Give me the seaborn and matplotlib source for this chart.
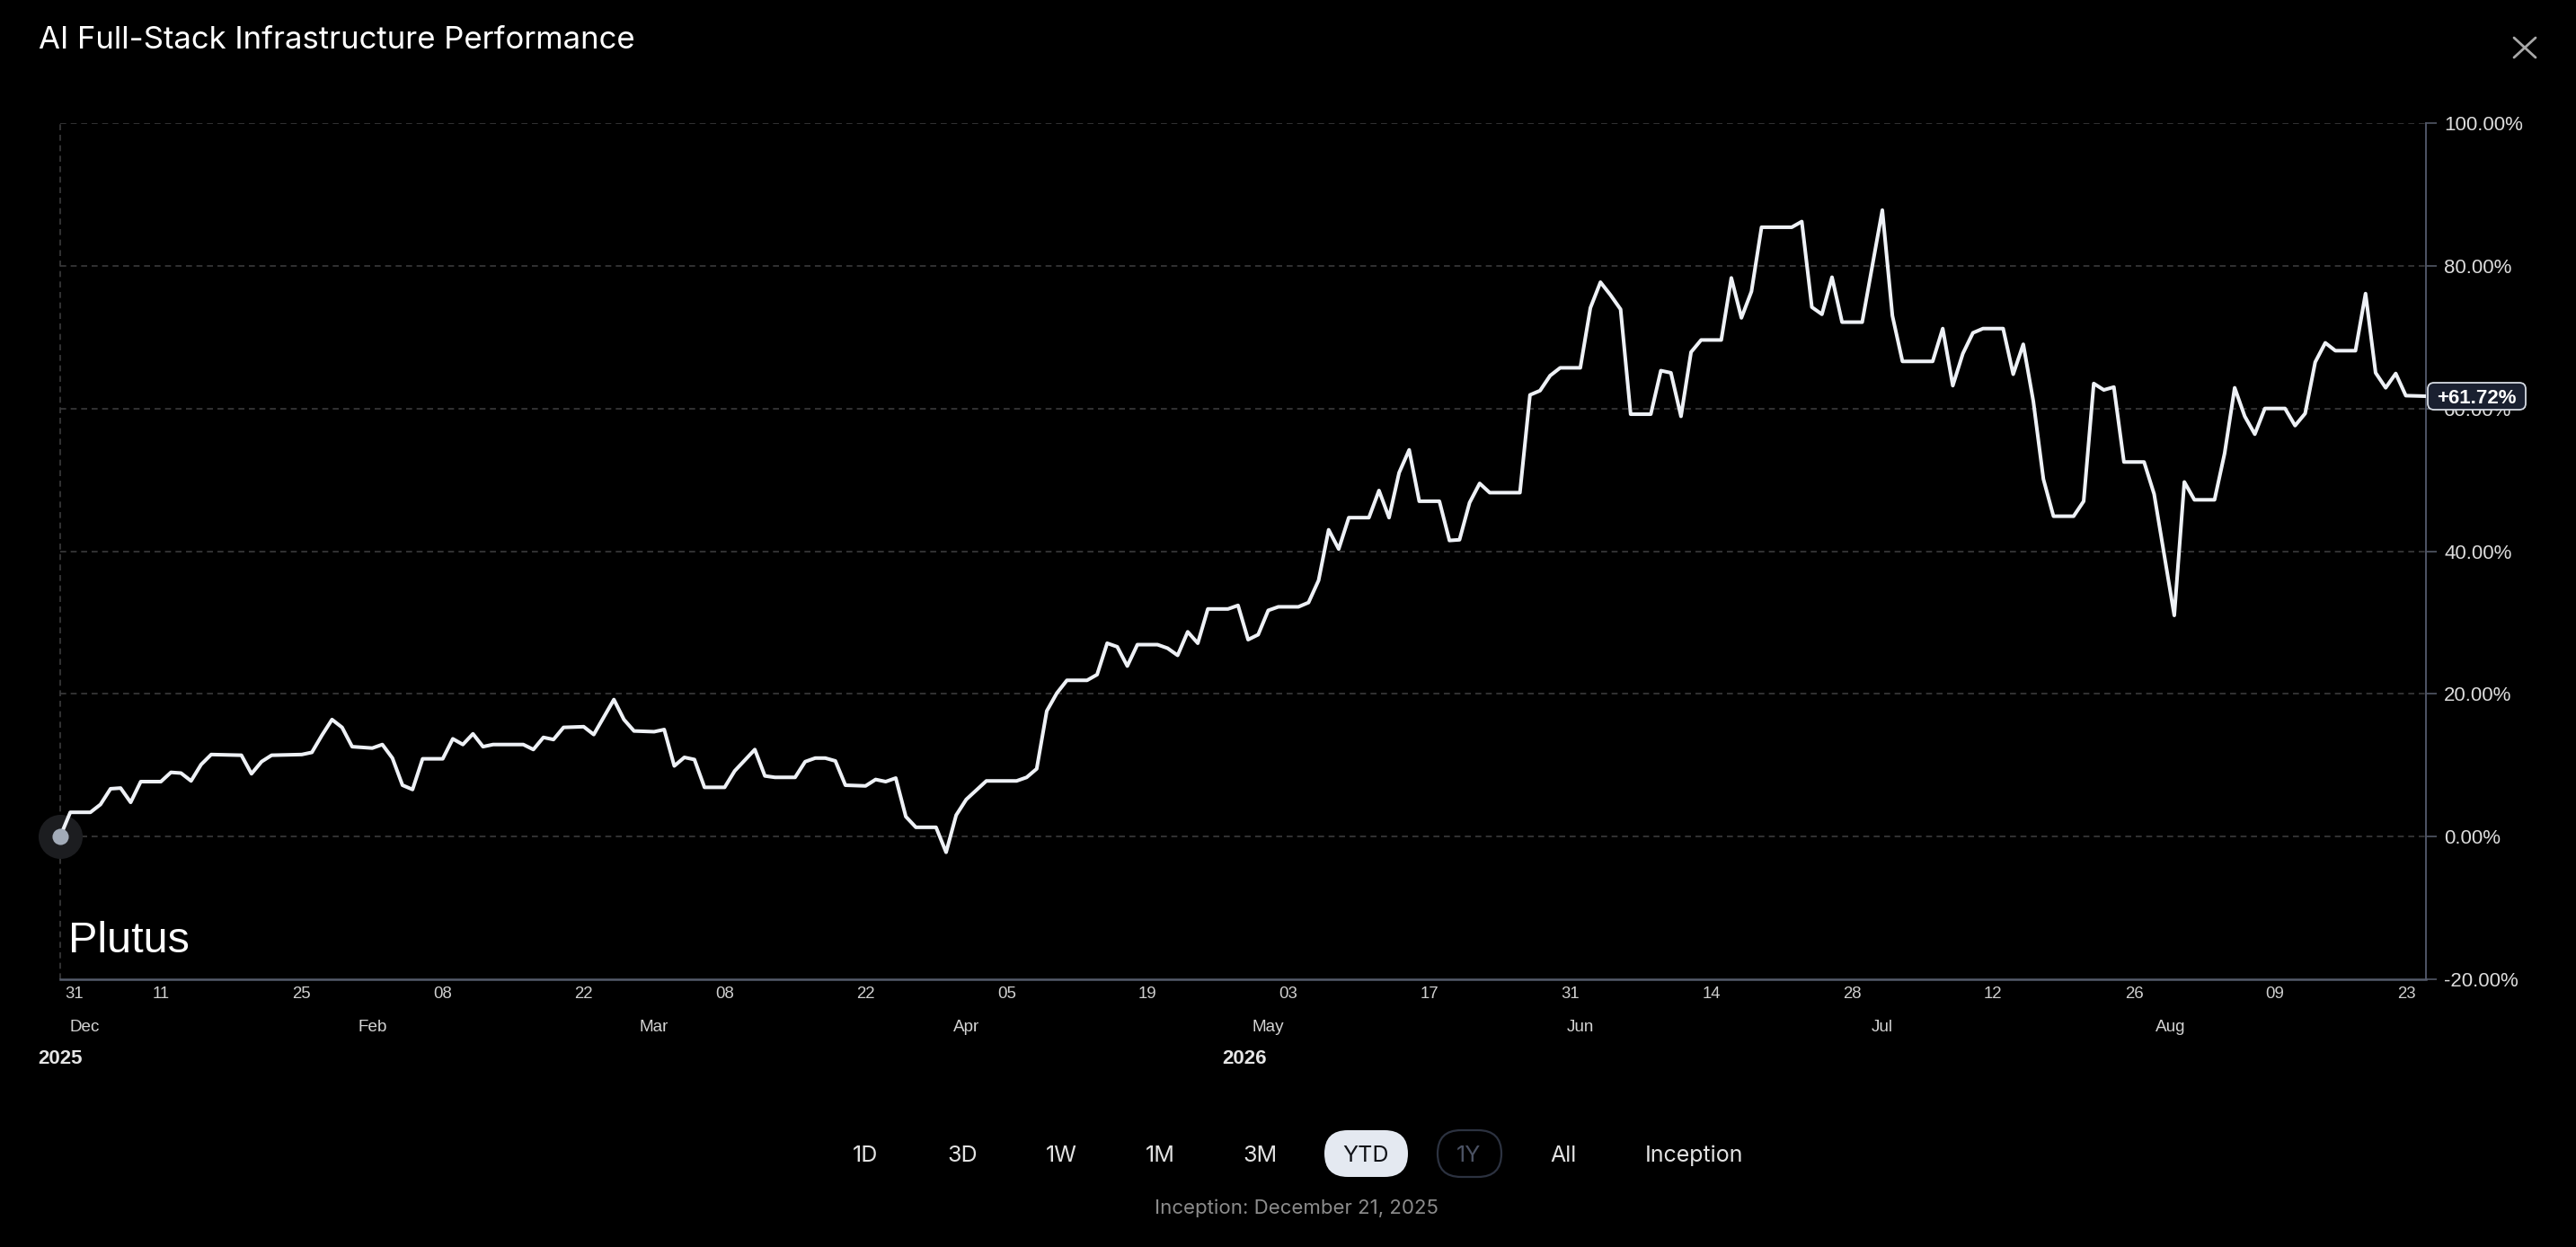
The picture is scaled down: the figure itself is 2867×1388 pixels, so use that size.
import matplotlib
matplotlib.use("Agg")
import numpy as np
import pandas as pd
import seaborn as sns
import matplotlib.pyplot as plt
from matplotlib import font_manager
from matplotlib.patches import FancyBboxPatch
from matplotlib.lines import Line2D
from matplotlib import transforms

# ---------------- data ----------------
title = "AI Full-Stack Infrastructure Performance"
# day offset from Jan 1 (YTD start) and cumulative return in %
days = [0, 1, 3, 4, 5, 6, 7, 8, 10, 11, 12, 13, 14, 15, 18, 19, 20, 21, 24, 25,
        26, 27, 28, 29, 31, 32, 33, 34, 35, 36, 38, 39, 40, 41, 42, 43, 46, 47, 48, 49,
        50, 52, 53, 55, 56, 57, 59, 60, 61, 62, 63, 64, 66, 67, 69, 70, 71, 73, 74, 75,
        76, 77, 78, 80, 81, 82, 83, 84, 85, 87, 88, 89, 90, 92, 95, 96, 97, 98, 99, 100,
        102, 103, 104, 105, 106, 107, 109, 110, 111, 112, 113, 114, 116, 117, 118, 119, 120, 121, 123, 124,
        125, 126, 127, 128, 130, 131, 132, 133, 134, 135, 137, 138, 139, 140, 141, 142, 145, 146, 147, 148,
        149, 151, 152, 153, 154, 155, 156, 158, 159, 160, 161, 162, 163, 165, 166, 167, 168, 169, 172, 173,
        174, 175, 176, 177, 179, 181, 182, 183, 186, 187, 188, 189, 190, 191, 193, 194, 195, 196, 197, 198,
        200, 201, 202, 203, 204, 205, 207, 208, 210, 211, 212, 214, 215, 216, 217, 218, 219, 221, 222, 223,
        224, 225, 226, 228, 229, 230, 231, 232, 233, 235]
returns = [0.0, 3.4, 3.4, 4.5, 6.7, 6.8, 4.8, 7.7, 7.7, 9.0, 8.9, 7.8, 10.1, 11.5, 11.4, 8.8, 10.5, 11.4, 11.5, 11.8,
           14.2, 16.4, 15.3, 12.6, 12.4, 12.9, 11.0, 7.2, 6.6, 10.9, 10.9, 13.7, 12.9, 14.4, 12.6, 12.9, 12.9, 12.2, 13.9, 13.6,
           15.3, 15.4, 14.3, 19.2, 16.4, 14.8, 14.7, 15.0, 9.9, 11.1, 10.8, 6.9, 6.9, 9.2, 12.2, 8.5, 8.3, 8.3, 10.5, 11.0,
           11.0, 10.6, 7.2, 7.1, 8.0, 7.7, 8.2, 2.8, 1.3, 1.3, -2.2, 3.0, 5.2, 7.8, 7.8, 8.3, 9.5, 17.6, 20.1, 21.9,
           21.9, 22.7, 27.1, 26.6, 23.9, 26.9, 26.9, 26.4, 25.4, 28.7, 27.1, 31.9, 31.9, 32.4, 27.6, 28.3, 31.7, 32.2, 32.2, 32.8,
           35.9, 43.0, 40.3, 44.7, 44.7, 48.5, 44.7, 51.0, 54.2, 47.0, 47.0, 41.5, 41.6, 46.8, 49.5, 48.2, 48.2, 61.9, 62.5, 64.6,
           65.7, 65.7, 74.1, 77.7, 75.9, 73.9, 59.2, 59.2, 65.3, 65.0, 58.9, 67.9, 69.6, 69.6, 78.3, 72.7, 76.4, 85.4, 85.4, 86.2,
           74.2, 73.2, 78.4, 72.1, 72.1, 87.8, 73.0, 66.6, 66.6, 71.2, 63.2, 67.7, 70.6, 71.2, 71.2, 64.8, 69.0, 61.0, 50.1, 44.9,
           44.9, 47.0, 63.5, 62.6, 63.0, 52.5, 52.5, 48.0, 31.0, 49.7, 47.2, 47.2, 53.7, 62.9, 58.9, 56.4, 60.0, 60.0, 57.6, 59.3,
           66.5, 69.2, 68.1, 68.1, 76.1, 65.0, 62.9, 64.9, 61.8, 61.72]
last_label = "+61.72%"

y_ticks = [-20, 0, 20, 40, 60, 80, 100]
y_tick_labels = [f"{v:.2f}%" for v in y_ticks]

day_tick_pos = [1.4, 10, 24, 38, 52, 66, 80, 94, 108, 122, 136, 150, 164, 178, 192, 206, 220, 233.1]
day_tick_labels = ["31", "11", "25", "08", "22", "08", "22", "05", "19", "03", "17", "31",
                   "14", "28", "12", "26", "09", "23"]
month_labels = ["Dec", "Feb", "Mar", "Apr", "May", "Jun", "Jul", "Aug"]
month_pos = [2.4, 31, 59, 90, 120, 151, 181, 209.6]
year_labels = ["2025", "2026"]
year_pos = [0, 117.6]

range_buttons = ["1D", "3D", "1W", "1M", "3M", "YTD", "1Y", "All", "Inception"]
active_button = "YTD"
disabled_button = "1Y"
logo_text = "Plutus"
footer_text = "Inception: December 21, 2025"

# ---------------- style ----------------
W, H = 2867, 1388
sns.set_theme(style="dark")
plt.rcParams["font.family"] = ["Liberation Sans", "DejaVu Sans"]
plt.rcParams["axes.facecolor"] = "black"
plt.rcParams["figure.facecolor"] = "black"

avail = {f.name for f in font_manager.fontManager.ttflist}
logo_family = "Liberation Sans Narrow" if "Liberation Sans Narrow" in avail else "Liberation Sans"
logo_size = 38 if logo_family == "Liberation Sans Narrow" else 35
ui_family = ["Inter", "Liberation Sans", "DejaVu Sans"] if "Inter" in avail else ["Liberation Sans", "DejaVu Sans"]

fig = plt.figure(figsize=(W / 100, H / 100), dpi=100)
fig.patch.set_facecolor("black")

ax = fig.add_axes([67 / W, 1 - 1090 / H, 2633 / W, 953 / H])
ax.set_facecolor("black")

df = pd.DataFrame({"day": days, "ret": returns})
sns.lineplot(data=df, x="day", y="ret", ax=ax, color="#eef1f6", linewidth=2.9,
             zorder=5, legend=False)

ax.set_xlim(0, 235)
ax.set_ylim(-20, 100)
ax.set_xlabel("")
ax.set_ylabel("")

# grid
grid_kw = dict(color="#3a3a3c", linewidth=1.2, linestyle=(0, (4, 3)))
ax.grid(False)
for v in y_ticks[1:]:
    ax.axhline(v, zorder=1, **grid_kw)
ax.axvline(0, zorder=1, clip_on=False, **grid_kw)

# spines
for s in ["top", "left"]:
    ax.spines[s].set_visible(False)
ax.spines["right"].set_color("#4f5566")
ax.spines["right"].set_linewidth(1.4)
ax.spines["bottom"].set_color("#555b6b")
ax.spines["bottom"].set_linewidth(1.8)

# y axis on the right
ax.yaxis.tick_right()
ax.set_yticks(y_ticks)
ax.set_yticklabels(y_tick_labels)
ax.tick_params(axis="y", which="both", right=True, left=False, length=8.5, width=1.1,
               color="#5a6070", labelcolor="#dcdcdc", labelsize=16, pad=6)

# x axis day labels
ax.set_xticks(day_tick_pos)
ax.set_xticklabels(day_tick_labels)
ax.tick_params(axis="x", length=0, pad=6, labelsize=13.4, labelcolor="#cfcfcf")

# start marker
ax.scatter([days[0]], [returns[0]], s=1250, color="#1c1d20", zorder=3, clip_on=False, linewidths=0)
ax.scatter([days[0]], [returns[0]], s=170, color="#a2abb8", zorder=6, clip_on=False, linewidths=0)

# ---------------- overlay in pixel coordinates ----------------
ov = fig.add_axes([0, 0, 1, 1])
ov.set_xlim(0, W)
ov.set_ylim(0, H)
ov.axis("off")
ov.patch.set_visible(False)


def Y(y_top):
    return H - y_top


# month and year labels: x in data units, y in pixels
blend = transforms.blended_transform_factory(ax.transData, ov.transData)
for lab, p in zip(month_labels, month_pos):
    ov.text(p, Y(1143), lab, transform=blend, ha="center", va="center",
            fontsize=13.6, color="#d4d4d4")
for lab, p in zip(year_labels, year_pos):
    ov.text(p, Y(1179), lab, transform=blend, ha="center", va="center",
            fontsize=16, fontweight="bold", color="#e6e6e6")

# title
ov.text(43, Y(54), title, ha="left", va="baseline", fontsize=25,
        color="white", family=ui_family)

# close icon
ov.add_line(Line2D([2798, 2822], [Y(42), Y(64)], color="#a8a8a8", lw=2))
ov.add_line(Line2D([2798, 2822], [Y(64), Y(42)], color="#a8a8a8", lw=2))

# logo watermark
ov.text(76, Y(1060), logo_text, ha="left", va="baseline", fontsize=logo_size,
        color="white", family=logo_family)

# last value badge
fig.canvas.draw()
_, y_last = ax.transData.transform((days[-1], returns[-1]))
bx0, bw, bh = 2702, 109, 30
ov.add_patch(FancyBboxPatch((bx0, y_last - bh / 2), bw, bh,
                            boxstyle="round,pad=0,rounding_size=7",
                            fc="#1a2030", ec="#d6dbe3", lw=1.3, zorder=10))
ov.text(bx0 + bw / 2, y_last, last_label, ha="center", va="center_baseline",
        fontsize=16, fontweight="bold", color="white", zorder=11)

# range buttons
btn_x = [963, 1071, 1181, 1291, 1402, 1520, 1635, 1740, 1885]
btn_y = Y(1284)
for lab, bx in zip(range_buttons, btn_x):
    col = "#e2e2e2"
    if lab == active_button:
        ov.add_patch(FancyBboxPatch((1474, Y(1310)), 93, 52,
                                    boxstyle="round,pad=0,rounding_size=26",
                                    fc="#e4e9f1", ec="none", zorder=2))
        col = "#111318"
    elif lab == disabled_button:
        ov.add_patch(FancyBboxPatch((1600, Y(1310)), 71, 52,
                                    boxstyle="round,pad=0,rounding_size=26",
                                    fc="none", ec="#2c3240", lw=1.6, zorder=2))
        col = "#4b5263"
    ov.text(bx, btn_y, lab, ha="center", va="center_baseline", fontsize=18,
            color=col, family=ui_family, zorder=3)

ov.text(1443, Y(1343), footer_text, ha="center", va="center_baseline", fontsize=16,
        color="#8c8c8c", family=ui_family)

fig.savefig("out.png", dpi=100, facecolor="black")
